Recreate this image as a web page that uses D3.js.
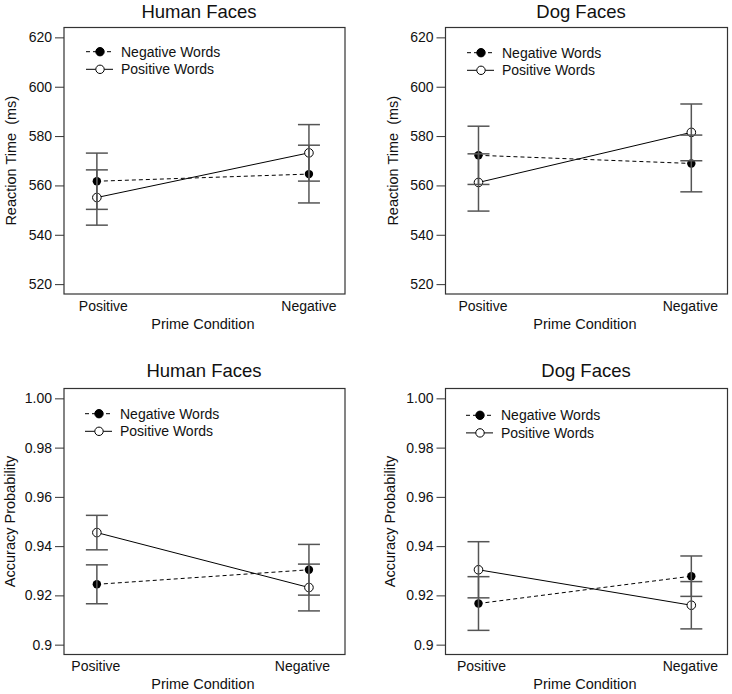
<!DOCTYPE html>
<html>
<head>
<meta charset="utf-8">
<script src="https://cdn.jsdelivr.net/npm/d3@7"></script>
<style>
  body { margin: 0; background: white; }
  svg { font-family: "Liberation Sans", Arial, sans-serif; }
</style>
</head>
<body>
<div id="vis"></div>
<script>
// Datos
const condiciones = ["Positive", "Negative"];
const series = ["Negative Words", "Positive Words"];

// Tiempo de reaccion (ms)
const rtHumanNeg = [561.7, 564.6];
const rtHumanNegErr = [11.4, 11.7];
const rtHumanPos = [555.1, 573.2];
const rtHumanPosErr = [11.2, 11.45];
const rtDogNeg = [572.2, 568.9];
const rtDogNegErr = [11.8, 11.5];
const rtDogPos = [561.2, 581.5];
const rtDogPosErr = [11.6, 11.5];

// Probabilidad de acierto
const accHumanNeg = [0.9245, 0.9304];
const accHumanNegErr = [0.0079, 0.0103];
const accHumanPos = [0.9455, 0.9232];
const accHumanPosErr = [0.0070, 0.0095];
const accDogNeg = [0.9167, 0.9278];
const accDogNegErr = [0.0109, 0.0082];
const accDogPos = [0.9304, 0.9160];
const accDogPosErr = [0.0114, 0.0096];

// Ticks
const rtTicks = [520, 540, 560, 580, 600, 620];
const rtTickLabels = ["520", "540", "560", "580", "600", "620"];
const accTicks = [0.90, 0.92, 0.94, 0.96, 0.98, 1.00];
const accTickLabels = ["0.9", "0.92", "0.94", "0.96", "0.98", "1.00"];

const ancho = 732;
const alto = 694;

const svg = d3.select("#vis")
  .append("svg")
  .attr("width", ancho)
  .attr("height", alto);

// Paneles
const paneles = [
  { titulo: "Human Faces", yLabel: "Reaction Time  (ms)", x0: 64, x1: 345, y0: 27.5, y1: 294,
    dominio: [516, 624], ticks: rtTicks, tickLabels: rtTickLabels,
    neg: rtHumanNeg, negErr: rtHumanNegErr, pos: rtHumanPos, posErr: rtHumanPosErr,
    tituloX: 199, tituloY: 17.5, yLabelX: 15.5, catShift: [6.5, 0], legX: 86, legY: 51.7 },
  { titulo: "Dog Faces", yLabel: "Reaction Time  (ms)", x0: 445.5, x1: 727.5, y0: 27.5, y1: 294,
    dominio: [516, 624], ticks: rtTicks, tickLabels: rtTickLabels,
    neg: rtDogNeg, negErr: rtDogNegErr, pos: rtDogPos, posErr: rtDogPosErr,
    tituloX: 581, tituloY: 17.5, yLabelX: 397.5, catShift: [4.5, -1], legX: 467, legY: 52.7 },
  { titulo: "Human Faces", yLabel: "Accuracy Probability", x0: 64, x1: 345, y0: 388.5, y1: 654.5,
    dominio: [0.896, 1.004], ticks: accTicks, tickLabels: accTickLabels,
    neg: accHumanNeg, negErr: accHumanNegErr, pos: accHumanPos, posErr: accHumanPosErr,
    tituloX: 204, tituloY: 377, yLabelX: 15, catShift: [-1, -6.5], legX: 85, legY: 413.7 },
  { titulo: "Dog Faces", yLabel: "Accuracy Probability", x0: 445.5, x1: 727.5, y0: 388.5, y1: 654.5,
    dominio: [0.896, 1.004], ticks: accTicks, tickLabels: accTickLabels,
    neg: accDogNeg, negErr: accDogNegErr, pos: accDogPos, posErr: accDogPosErr,
    tituloX: 586, tituloY: 377, yLabelX: 395, catShift: [3, -1], legX: 466, legY: 415.3 }
];

const colorError = "#555";
const colorCaja = "#333";

paneles.forEach(p => {
  const g = svg.append("g");

  const escalaX = d3.scaleLinear()
    .domain([0.845, 2.17])
    .range([p.x0, p.x1]);

  const escalaY = d3.scaleLinear()
    .domain(p.dominio)
    .range([p.y1, p.y0]);

  // Eje Y
  const ejeY = g.append("g")
    .attr("transform", `translate(${p.x0},0)`)
    .call(d3.axisLeft(escalaY)
      .tickValues(p.ticks)
      .tickFormat((d, i) => p.tickLabels[i])
      .tickSize(9)
      .tickPadding(3));
  ejeY.select(".domain").remove();
  ejeY.selectAll("line").attr("stroke", colorCaja);
  ejeY.selectAll("text")
    .attr("font-size", "14px")
    .attr("font-family", "Liberation Sans, Arial, sans-serif")
    .attr("fill", "#111");

  // Etiquetas de categoria
  g.selectAll(".cat")
    .data(condiciones)
    .enter()
    .append("text")
    .attr("x", (d, i) => escalaX(i + 1) + p.catShift[i])
    .attr("y", p.y1 + 16.5)
    .attr("text-anchor", "middle")
    .attr("font-size", "14px")
    .attr("fill", "#111")
    .text(d => d);

  // Titulo del eje X
  g.append("text")
    .attr("x", (escalaX(1) + escalaX(2)) / 2)
    .attr("y", p.y1 + 34.5)
    .attr("text-anchor", "middle")
    .attr("font-size", "14.5px")
    .attr("fill", "#111")
    .text("Prime Condition");

  // Titulo del eje Y
  g.append("text")
    .attr("transform", `translate(${p.yLabelX},${(p.y0 + p.y1) / 2}) rotate(-90)`)
    .attr("text-anchor", "middle")
    .attr("font-size", "14.5px")
    .attr("fill", "#111")
    .style("white-space", "pre")
    .text(p.yLabel);

  // Titulo
  g.append("text")
    .attr("x", p.tituloX)
    .attr("y", p.tituloY)
    .attr("text-anchor", "middle")
    .attr("font-size", "18.5px")
    .attr("fill", "#111")
    .text(p.titulo);

  // Lineas
  const linea = d3.line()
    .x((d, i) => escalaX(i + 1))
    .y(d => escalaY(d));

  g.append("path")
    .attr("d", linea(p.neg))
    .attr("fill", "none")
    .attr("stroke", "#000")
    .attr("stroke-width", 1)
    .attr("stroke-dasharray", "4,3");

  g.append("path")
    .attr("d", linea(p.pos))
    .attr("fill", "none")
    .attr("stroke", "#000")
    .attr("stroke-width", 1);

  // Puntos
  g.selectAll(".neg")
    .data(p.neg)
    .enter()
    .append("circle")
    .attr("cx", (d, i) => escalaX(i + 1))
    .attr("cy", d => escalaY(d))
    .attr("r", 4.2)
    .attr("fill", "#000");

  g.selectAll(".pos")
    .data(p.pos)
    .enter()
    .append("circle")
    .attr("cx", (d, i) => escalaX(i + 1))
    .attr("cy", d => escalaY(d))
    .attr("r", 4.3)
    .attr("fill", "white")
    .attr("stroke", "#000")
    .attr("stroke-width", 1);

  // Barras de error
  const errores = [];
  p.neg.forEach((v, i) => errores.push({ i, v, e: p.negErr[i] }));
  p.pos.forEach((v, i) => errores.push({ i, v, e: p.posErr[i] }));
  const mitadCap = 11;

  errores.forEach(d => {
    const cx = escalaX(d.i + 1);
    g.append("line")
      .attr("x1", cx).attr("x2", cx)
      .attr("y1", escalaY(d.v + d.e))
      .attr("y2", escalaY(d.v - d.e))
      .attr("stroke", colorError)
      .attr("stroke-width", 1.5);
    [d.v + d.e, d.v - d.e].forEach(y => {
      g.append("line")
        .attr("x1", cx - mitadCap).attr("x2", cx + mitadCap)
        .attr("y1", escalaY(y)).attr("y2", escalaY(y))
        .attr("stroke", colorError)
        .attr("stroke-width", 1.5);
    });
  });

  // Caja
  g.append("rect")
    .attr("x", p.x0)
    .attr("y", p.y0)
    .attr("width", p.x1 - p.x0)
    .attr("height", p.y1 - p.y0)
    .attr("fill", "none")
    .attr("stroke", colorCaja)
    .attr("stroke-width", 1.2);

  // Leyenda
  const leyenda = g.append("g");
  const filas = [
    { nombre: series[0], dash: "4,3", relleno: "#000" },
    { nombre: series[1], dash: null, relleno: "white" }
  ];
  filas.forEach((f, k) => {
    const y = p.legY + k * 17.6;
    leyenda.append("line")
      .attr("x1", p.legX).attr("x2", p.legX + 27)
      .attr("y1", y).attr("y2", y)
      .attr("stroke", "#000")
      .attr("stroke-width", 1)
      .attr("stroke-dasharray", f.dash);
    leyenda.append("circle")
      .attr("cx", p.legX + 14)
      .attr("cy", y)
      .attr("r", 4.2)
      .attr("fill", f.relleno)
      .attr("stroke", "#000")
      .attr("stroke-width", 1);
    leyenda.append("text")
      .attr("x", p.legX + 35)
      .attr("y", y + 5)
      .attr("font-size", "14px")
      .attr("fill", "#111")
      .text(f.nombre);
  });
});
</script>
</body>
</html>
